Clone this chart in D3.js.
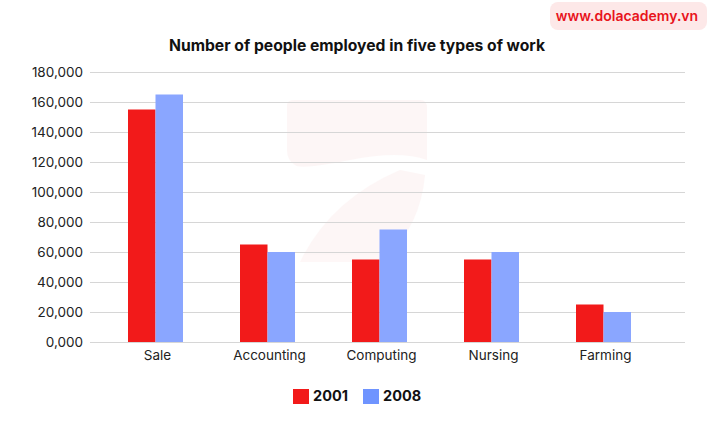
<!DOCTYPE html>
<html><head><meta charset="utf-8">
<script src="https://cdn.jsdelivr.net/npm/d3@7"></script>
<style>body{margin:0;background:#fff;font-family:Inter,"Noto Sans",sans-serif;}</style>
</head><body>
<svg id="c" width="712" height="440"></svg>
<script>
const categories = ["Sale","Accounting","Computing","Nursing","Farming"];
const series = ["2001","2008"];
const values2001 = [155000,65000,55000,55000,25000];
const values2008 = [165000,60000,75000,60000,20000];
const yTicks = [0,20000,40000,60000,80000,100000,120000,140000,160000,180000];
const yTickLabels = ["0,000","20,000","40,000","60,000","80,000","100,000","120,000","140,000","160,000","180,000"];
const colors = ["#f21a1a","#8aa6ff"];
const legendColors = ["#f21a1a","#6f94ff"];
const title = "Number of people employed in five types of work";

const svg = d3.select("#c");
const gridL = 90, gridR = 685;
const y = d3.scaleLinear().domain([0,180000]).range([342,72]);
const x = d3.scaleBand().domain(categories).range([99.5,659.5]).paddingInner(0).paddingOuter(0);
const x1 = d3.scaleBand().domain(series).range([x.bandwidth()/2-27.5, x.bandwidth()/2+27.5]);

// watermark
const wm = svg.append("g").attr("opacity",0.035).attr("fill","#e02020");
wm.append("path").attr("d","M287,105 Q287,100 295,100 L420,100 Q427,100 427,108 L427,160 Q400,150 350,160 Q300,170 295,165 Q287,160 287,150 Z");
wm.append("path").attr("d","M300,262 Q330,200 400,170 L425,175 Q420,230 380,262 Z");

// gridlines
svg.append("g").selectAll("line").data(yTicks).join("line")
  .attr("x1",gridL).attr("x2",gridR)
  .attr("y1",d=>Math.round(y(d))+0.5).attr("y2",d=>Math.round(y(d))+0.5)
  .attr("stroke","#d6d6d6").attr("stroke-width",1);

// y labels
svg.append("g").selectAll("text").data(yTicks).join("text")
  .attr("x",83).attr("y",d=>y(d)).attr("dy","0.35em")
  .attr("text-anchor","end").attr("font-size",13.5).attr("fill","#222")
  .text((d,i)=>yTickLabels[i]);

// bars
const data = categories.map((c,i)=>({c, vals:[values2001[i],values2008[i]]}));
const g = svg.append("g").selectAll("g").data(data).join("g")
  .attr("transform",d=>`translate(${x(d.c)},0)`);
g.selectAll("rect").data(d=>d.vals.map((v,j)=>({v,s:series[j],j}))).join("rect")
  .attr("x",d=>x1(d.s)).attr("width",x1.bandwidth())
  .attr("y",d=>y(d.v)).attr("height",d=>y(0)-y(d.v))
  .attr("fill",d=>colors[d.j]);

// x labels
svg.append("g").selectAll("text").data(categories).join("text")
  .attr("x",d=>x(d)+x.bandwidth()/2+2).attr("y",360)
  .attr("text-anchor","middle").attr("font-size",13.5).attr("fill","#222").text(d=>d);

// title
svg.append("text").attr("x",357).attr("y",51).attr("text-anchor","middle")
  .attr("font-size",15.7).attr("font-weight",700).attr("fill","#111").text(title);

// legend
const lg = svg.append("g");
const lx = [293,363];
series.forEach((s,i)=>{
  lg.append("rect").attr("x",lx[i]).attr("y",389).attr("width",16).attr("height",15).attr("fill",legendColors[i]);
  lg.append("text").attr("x",lx[i]+20).attr("y",401).attr("font-size",14.5).attr("font-weight",700).attr("fill","#111").text(s);
});

// brand
svg.append("rect").attr("x",550).attr("y",2).attr("width",157).attr("height",28).attr("rx",8).attr("fill","#fde8e8");
svg.append("text").attr("x",627).attr("y",21).attr("text-anchor","middle").attr("font-size",14)
  .attr("font-weight",600).attr("fill","#e8141c").text("www.dolacademy.vn");
</script>
</body></html>
